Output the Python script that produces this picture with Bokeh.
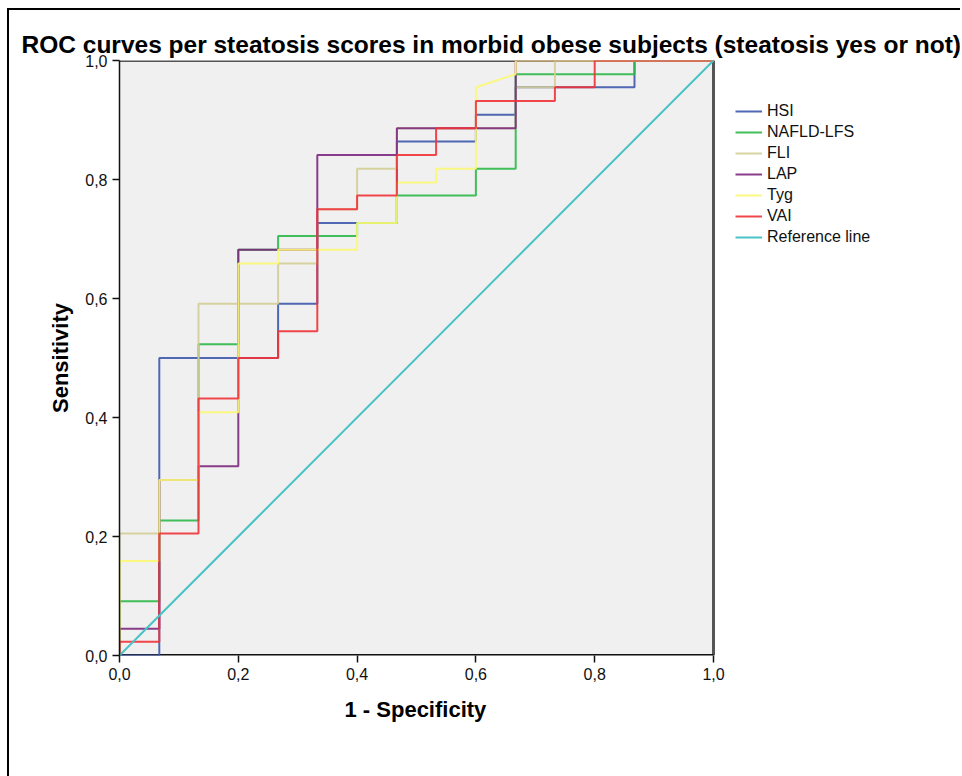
from bokeh.plotting import figure
from bokeh.models import Range1d, FixedTicker, CustomJSTickFormatter, Legend, LegendItem, Title
from bokeh.embed import file_html
from bokeh.resources import INLINE

# ---- data (ROC curve vertices) ----
series_names = ["HSI", "NAFLD-LFS", "FLI", "LAP", "Tyg", "VAI"]

hsi_fpr = [0, 0.067, 0.067, 0.267, 0.267, 0.333, 0.333, 0.467, 0.467, 0.6, 0.6, 0.667, 0.667, 0.867, 0.867, 1]
hsi_tpr = [0, 0, 0.5, 0.5, 0.591, 0.591, 0.727, 0.727, 0.864, 0.864, 0.909, 0.909, 0.955, 0.955, 1, 1]

nafld_fpr = [0, 0, 0.067, 0.067, 0.133, 0.133, 0.2, 0.2, 0.267, 0.267, 0.4, 0.4, 0.467, 0.467, 0.6, 0.6, 0.667, 0.667, 0.867, 0.867, 1]
nafld_tpr = [0, 0.091, 0.091, 0.227, 0.227, 0.523, 0.523, 0.682, 0.682, 0.705, 0.705, 0.727, 0.727, 0.773, 0.773, 0.818, 0.818, 0.977, 0.977, 1, 1]

fli_fpr = [0, 0, 0.067, 0.067, 0.133, 0.133, 0.267, 0.267, 0.333, 0.333, 0.4, 0.4, 0.467, 0.467, 0.667, 0.667, 0.733, 0.733, 1]
fli_tpr = [0, 0.205, 0.205, 0.295, 0.295, 0.591, 0.591, 0.659, 0.659, 0.75, 0.75, 0.818, 0.818, 0.886, 0.886, 0.955, 0.955, 1, 1]

lap_fpr = [0, 0, 0.067, 0.067, 0.133, 0.133, 0.2, 0.2, 0.333, 0.333, 0.467, 0.467, 0.667, 0.667, 1]
lap_tpr = [0, 0.045, 0.045, 0.295, 0.295, 0.318, 0.318, 0.682, 0.682, 0.841, 0.841, 0.886, 0.886, 1, 1]

tyg_fpr = [0, 0, 0.067, 0.067, 0.133, 0.133, 0.2, 0.2, 0.267, 0.267, 0.4, 0.4, 0.467, 0.467, 0.533, 0.533, 0.6, 0.6, 0.667, 0.667, 1]
tyg_tpr = [0, 0.159, 0.159, 0.295, 0.295, 0.409, 0.409, 0.659, 0.659, 0.682, 0.682, 0.727, 0.727, 0.795, 0.795, 0.818, 0.818, 0.955, 0.977, 1, 1]

vai_fpr = [0, 0, 0.067, 0.067, 0.133, 0.133, 0.2, 0.2, 0.267, 0.267, 0.333, 0.333, 0.4, 0.4, 0.467, 0.467, 0.533, 0.533, 0.6, 0.6, 0.733, 0.733, 0.8, 0.8, 1]
vai_tpr = [0, 0.023, 0.023, 0.205, 0.205, 0.432, 0.432, 0.5, 0.5, 0.545, 0.545, 0.75, 0.75, 0.773, 0.773, 0.841, 0.841, 0.886, 0.886, 0.932, 0.932, 0.955, 0.955, 1, 1]

ref_fpr = [0, 1]
ref_tpr = [0, 1]

tick_values = [0, 0.2, 0.4, 0.6, 0.8, 1.0]

colors = ["#3E58AC", "#2EB848", "#D3CE97", "#7C287D", "#FBF873", "#EF3338"]
ref_color = "#48C2C5"

FONT = "Liberation Sans"

# plot area spans 0..1 on both axes; the frame is widened to the right so the
# legend (drawn in the frame) has room, the grey panel is drawn as a quad
AXIS_MIN, AXIS_MAX = 0.0, 1.0
X_VIEW_END = 843 / 594

p = figure(width=953, height=768, output_backend="svg", toolbar_location=None,
           x_range=Range1d(0, X_VIEW_END), y_range=Range1d(AXIS_MIN, AXIS_MAX),
           min_border_left=110, min_border_right=0, min_border_top=50, min_border_bottom=123)
p.margin = (8, 0, 0, 7)
p.styles = {"border-left": "2px solid #000", "border-top": "2px solid #000"}

p.background_fill_color = "white"
p.border_fill_color = "white"
p.outline_line_color = None
p.xgrid.visible = False
p.ygrid.visible = False

# plot panel background and frame lines
p.quad(left=[AXIS_MIN], right=[AXIS_MAX], bottom=[AXIS_MIN], top=[AXIS_MAX],
       fill_color="#F0F0F0", line_color=None)
p.line([AXIS_MIN, AXIS_MAX, AXIS_MAX], [AXIS_MAX, AXIS_MAX, AXIS_MIN], line_color="#555555", line_width=3)
p.line([AXIS_MIN, AXIS_MAX], [AXIS_MIN, AXIS_MIN], line_color="#111111", line_width=3)

p.title.text = "ROC curves per steatosis scores in morbid obese subjects (steatosis yes or not)"
p.title.text_font = FONT
p.title.text_font_size = "24.5px"
p.title.text_font_style = "bold"
p.title.text_color = "#000000"
p.title.align = "left"
p.title.offset = -98
p.title.standoff = 5

fmt = CustomJSTickFormatter(code="return tick.toFixed(1).replace('.', ',');")
for ax in (p.xaxis, p.yaxis):
    ax.ticker = FixedTicker(ticks=tick_values)
    ax.formatter = fmt
    ax.major_label_text_font = FONT
    ax.major_label_text_font_size = "16px"
    ax.major_label_text_color = "#111111"
    ax.major_tick_out = 7
    ax.major_tick_in = 0
    ax.minor_tick_out = 0
    ax.minor_tick_in = 0
    ax.axis_line_color = "#111111"
    ax.axis_line_width = 1.5
    ax.major_tick_line_color = "#111111"
    ax.major_tick_line_width = 1.5
    ax.axis_label_text_font = FONT
    ax.axis_label_text_font_style = "bold"
    ax.axis_label_text_font_size = "22px"
    ax.axis_label_text_color = "#000000"
    ax.major_label_standoff = 5
p.xaxis.axis_line_color = None

p.yaxis.axis_label = "Sensitivity"
p.yaxis.axis_label_standoff = 9

xlabel = Title(text="1 - Specificity", align="left", offset=225,
               text_font=FONT, text_font_size="22px", text_font_style="bold",
               text_color="#000000", standoff=25)
p.add_layout(xlabel, "below")

curves = [(hsi_fpr, hsi_tpr), (nafld_fpr, nafld_tpr), (fli_fpr, fli_tpr),
          (lap_fpr, lap_tpr), (tyg_fpr, tyg_tpr), (vai_fpr, vai_tpr)]
items = []
for name, (fx, ty), c in zip(series_names, curves, colors):
    r = p.line(fx, ty, line_color=c, line_width=2, line_alpha=0.9)
    items.append(LegendItem(label=name, renderers=[r]))
rr = p.line(ref_fpr, ref_tpr, line_color=ref_color, line_width=2)
items.append(LegendItem(label="Reference line", renderers=[rr]))

legend = Legend(items=items, location=(616, 408))
legend.label_text_font = FONT
legend.label_text_font_size = "16px"
legend.label_text_color = "#111111"
legend.glyph_width = 27
legend.glyph_height = 20
legend.label_height = 20
legend.spacing = 1
legend.padding = 0
legend.margin = 0
legend.label_standoff = 5
legend.border_line_alpha = 0
legend.background_fill_alpha = 0
p.add_layout(legend, "center")

open("out.html", "w").write(file_html(p, INLINE))
